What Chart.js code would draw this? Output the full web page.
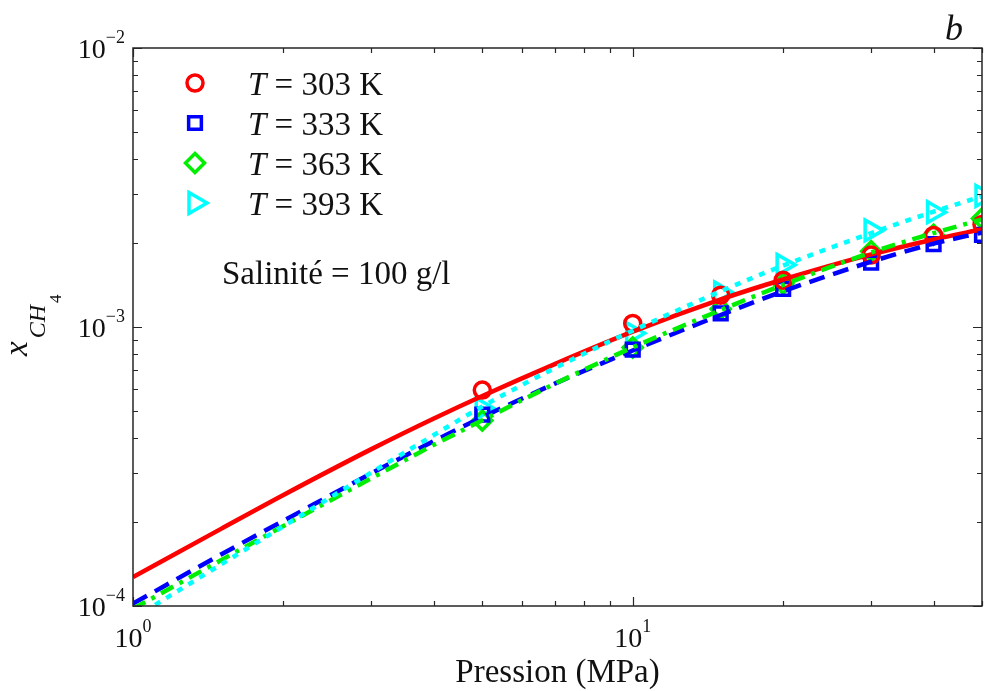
<!DOCTYPE html>
<html lang="fr">
<head>
<meta charset="utf-8">
<title>Solubilité du CH4 – salinité 100 g/l</title>
<script src="https://cdn.jsdelivr.net/npm/chart.js@4/dist/chart.umd.min.js"></script>
<style>
  html, body { margin: 0; padding: 0; background: #ffffff; overflow: hidden; }
  #cv { display: block; }
</style>
</head>
<body>
<canvas id="cv" width="985" height="691"></canvas>
<script>
// Temperatures of the four isotherms (K)
const temperatures = [303, 333, 363, 393];

// Model curves: pressure (MPa) and CH4 mole fraction
const pressureModel = [1, 1.5, 2, 3, 4, 5, 7, 10, 15, 20, 30, 40, 50];
const model303 = [1.27e-4, 1.89e-4, 2.50e-4, 3.65e-4, 4.70e-4, 5.66e-4, 7.38e-4, 9.62e-4, 1.256e-3, 1.48e-3, 1.82e-3, 2.06e-3, 2.24e-3];
const model333 = [1.02e-4, 1.53e-4, 2.02e-4, 2.99e-4, 3.90e-4, 4.75e-4, 6.28e-4, 8.24e-4, 1.104e-3, 1.343e-3, 1.714e-3, 1.99e-3, 2.18e-3];
const model363 = [9.77e-5, 1.459e-4, 1.936e-4, 2.87e-4, 3.78e-4, 4.63e-4, 6.27e-4, 8.45e-4, 1.15e-3, 1.416e-3, 1.85e-3, 2.17e-3, 2.43e-3];
const model393 = [9.02e-5, 1.409e-4, 1.932e-4, 3.01e-4, 4.10e-4, 5.19e-4, 7.14e-4, 9.70e-4, 1.343e-3, 1.66e-3, 2.17e-3, 2.59e-3, 2.94e-3];

// Measured points
const pressureExp = [5, 10, 15, 20, 30, 40, 50];
const exp303 = [5.94e-4, 1.03e-3, 1.30e-3, 1.47e-3, 1.81e-3, 2.13e-3, 2.33e-3];
const exp333 = [4.85e-4, 8.30e-4, 1.12e-3, 1.37e-3, 1.70e-3, 1.98e-3, 2.14e-3];
const exp363 = [4.62e-4, 8.45e-4, 1.16e-3, 1.43e-3, 1.87e-3, 2.14e-3, 2.45e-3];
const exp393 = [5.10e-4, 9.50e-4, 1.33e-3, 1.67e-3, 2.22e-3, 2.58e-3, 2.95e-3];

// Axis ranges
const xRange = [1, 50];
const yRange = [1e-4, 1e-2];

const SERIF = '"Liberation Serif", "Times New Roman", "DejaVu Serif", serif';
const AXIS_COLOR = '#262626';

const colors = ['#ff0000', '#0000ff', '#00ee00', '#00ffff'];
const markers = [
  { pointStyle: 'circle',   radius: 8,   rotation: 0 },
  { pointStyle: 'rect',     radius: 9,   rotation: 0 },
  { pointStyle: 'rectRot',  radius: 9.5, rotation: 0 },
  { pointStyle: 'triangle', radius: 12,  rotation: 90 }
];
const dashes = [[], [16, 9], [14, 7, 4, 7], [6, 7]];

const toPoints = (xs, ys) => xs.map((p, i) => ({ x: p, y: ys[i] }));
const modelSets = [model303, model333, model363, model393];
const expSets = [exp303, exp333, exp363, exp393];

const datasets = [];
// measured points drawn first, curves on top (cyan topmost)
expSets.forEach((vals, i) => {
  datasets.push({
    label: 'T = ' + temperatures[i] + ' K',
    data: toPoints(pressureExp, vals),
    showLine: false,
    borderColor: colors[i],
    backgroundColor: 'rgba(0,0,0,0)',
    pointStyle: markers[i].pointStyle,
    pointRadius: markers[i].radius,
    pointRotation: markers[i].rotation,
    pointBorderWidth: 3.5,
    pointBorderColor: colors[i],
    pointBackgroundColor: 'rgba(0,0,0,0)',
    clip: 0,
    order: 10 + i
  });
});
modelSets.forEach((vals, i) => {
  datasets.push({
    label: 'modèle ' + temperatures[i] + ' K',
    data: toPoints(pressureModel, vals),
    borderColor: colors[i],
    borderWidth: 4.5,
    borderDash: dashes[i],
    borderCapStyle: 'butt',
    pointRadius: 0,
    cubicInterpolationMode: 'monotone',
    fill: false,
    clip: 0,
    order: 4 - i
  });
});

// log-decade tick values (major = power of ten)
function logTicks(min, max) {
  const out = [];
  for (let e = Math.floor(Math.log10(min)); e <= Math.ceil(Math.log10(max)); e++) {
    for (let m = 1; m <= 9; m++) {
      const v = m * Math.pow(10, e);
      if (v >= min * 0.9999 && v <= max * 1.0001) out.push({ value: v, major: m === 1, exp: e });
    }
  }
  return out;
}

function drawPower(ctx, exp, x, y, align, baseSize, expSize, expRise) {
  const expTxt = exp < 0 ? '\u2212' + Math.abs(exp) : String(exp);
  ctx.font = baseSize + 'px ' + SERIF;
  const wb = ctx.measureText('10').width;
  ctx.font = expSize + 'px ' + SERIF;
  const we = ctx.measureText(expTxt).width;
  const x0 = align === 'center' ? x - (wb + we) / 2 : x - (wb + we);
  ctx.textAlign = 'left';
  ctx.textBaseline = 'alphabetic';
  ctx.font = baseSize + 'px ' + SERIF;
  ctx.fillText('10', x0, y);
  ctx.font = expSize + 'px ' + SERIF;
  ctx.fillText(expTxt, x0 + wb, y - expRise);
}

const framePlugin = {
  id: 'frame',
  afterDatasetsDraw(chart) {
    const { ctx, chartArea: a, scales } = chart;
    const xs = scales.x, ys = scales.y;
    ctx.save();
    ctx.strokeStyle = AXIS_COLOR;
    ctx.fillStyle = '#111111';
    ctx.lineWidth = 1.5;
    ctx.strokeRect(a.left, a.top, a.right - a.left, a.bottom - a.top);

    // inward ticks on all four sides
    ctx.lineWidth = 1.2;
    ctx.beginPath();
    logTicks(xs.min, xs.max).forEach(t => {
      const px = Math.round(xs.getPixelForValue(t.value)) + 0.5;
      const len = t.major ? 9 : 5;
      ctx.moveTo(px, a.bottom); ctx.lineTo(px, a.bottom - len);
      ctx.moveTo(px, a.top); ctx.lineTo(px, a.top + len);
    });
    logTicks(ys.min, ys.max).forEach(t => {
      const py = Math.round(ys.getPixelForValue(t.value)) + 0.5;
      const len = t.major ? 9 : 5;
      ctx.moveTo(a.left, py); ctx.lineTo(a.left + len, py);
      ctx.moveTo(a.right, py); ctx.lineTo(a.right - len, py);
    });
    ctx.stroke();

    // tick labels
    logTicks(xs.min, xs.max).filter(t => t.major).forEach(t => {
      drawPower(ctx, t.exp, xs.getPixelForValue(t.value), a.bottom + 41, 'center', 28, 18, 15);
    });
    logTicks(ys.min, ys.max).filter(t => t.major).forEach(t => {
      drawPower(ctx, t.exp, a.left - 8, ys.getPixelForValue(t.value) + 10, 'right', 28, 18, 15);
    });

    // x-axis title
    ctx.font = '33px ' + SERIF;
    ctx.textAlign = 'center';
    ctx.textBaseline = 'alphabetic';
    ctx.fillText('Pression (MPa)', (a.left + a.right) / 2, a.bottom + 76);

    // y-axis title: x_{CH_4}
    ctx.save();
    ctx.translate(27, 356);
    ctx.rotate(-Math.PI / 2);
    ctx.textAlign = 'left';
    ctx.font = 'italic 33px ' + SERIF;
    ctx.fillText('x', 0, 0);
    const wx = ctx.measureText('x').width;
    ctx.font = 'italic 24px ' + SERIF;
    ctx.fillText('CH', wx + 3, 18);
    const wch = ctx.measureText('CH').width;
    ctx.font = '17px ' + SERIF;
    ctx.fillText('4', wx + 3 + wch + 2, 34);
    ctx.restore();

    // panel letter
    ctx.font = 'italic 36px ' + SERIF;
    ctx.textAlign = 'left';
    ctx.fillText('b', 945, 40);

    // salinity note
    ctx.font = '33px ' + SERIF;
    ctx.fillText('Salinit\u00e9 = 100 g/l', 222, 284);

    // legend
    const lx = 195, ly0 = 83, dy = 40;
    temperatures.forEach((T, i) => {
      const cy = ly0 + i * dy;
      ctx.save();
      ctx.strokeStyle = colors[i];
      ctx.fillStyle = 'rgba(0,0,0,0)';
      ctx.lineWidth = 3.5;
      Chart.helpers.drawPoint(ctx, {
        pointStyle: markers[i].pointStyle,
        radius: markers[i].radius,
        rotation: markers[i].rotation,
        borderWidth: 3.5
      }, lx, cy);
      ctx.restore();
      ctx.fillStyle = '#111111';
      ctx.textAlign = 'left';
      ctx.font = 'italic 33px ' + SERIF;
      ctx.fillText('T', 248, cy + 12);
      const wT = ctx.measureText('T').width;
      ctx.font = '33px ' + SERIF;
      ctx.fillText(' = ' + T + ' K', 248 + wT, cy + 12);
    });
    ctx.restore();
  }
};

new Chart(document.getElementById('cv'), {
  type: 'line',
  data: { datasets },
  options: {
    responsive: false,
    animation: false,
    events: [],
    layout: { autoPadding: false, padding: { left: 133, top: 48, right: 3, bottom: 85 } },
    plugins: { legend: { display: false }, tooltip: { enabled: false } },
    scales: {
      x: { type: 'logarithmic', min: xRange[0], max: xRange[1], display: false },
      y: { type: 'logarithmic', min: yRange[0], max: yRange[1], display: false }
    }
  },
  plugins: [framePlugin]
});
</script>
</body>
</html>
